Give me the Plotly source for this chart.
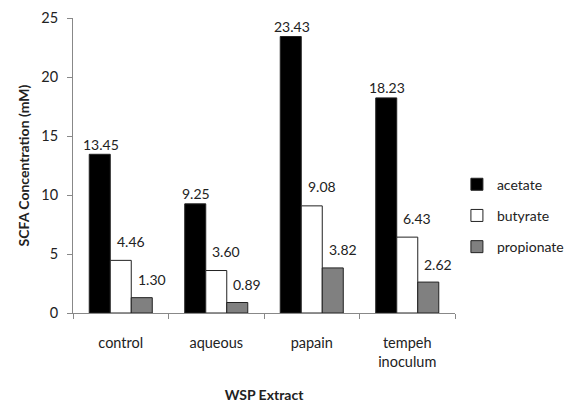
import plotly.graph_objects as go

categories = ["control", "aqueous", "papain", "tempeh<br>inoculum"]
acetate = [13.45, 9.25, 23.43, 18.23]
butyrate = [4.46, 3.60, 9.08, 6.43]
propionate = [1.30, 0.89, 3.82, 2.62]
series_names = ["acetate", "butyrate", "propionate"]
colors = ["#000000", "#FFFFFF", "#808080"]
y_ticks = [0, 5, 10, 15, 20, 25]

FONT = "Lato, Open Sans, sans-serif"
BARGAP = 0.34
label_xshift = [1, 10, 10]
label_yshift = [10, 19, 18]

fig = go.Figure()
all_series = [acetate, butyrate, propionate]
for name, vals, col in zip(series_names, all_series, colors):
    fig.add_trace(go.Bar(
        x=categories, y=vals, name=name,
        marker=dict(color=col, line=dict(color="#222222", width=1)),
        legendgroup=name,
    ))

slot = (1 - BARGAP) / 3
annotations = []
for k, vals in enumerate(all_series):
    for i, v in enumerate(vals):
        annotations.append(dict(
            x=i + (k - 1) * slot, y=v, xref="x", yref="y",
            text=f"{v:.2f}", showarrow=False,
            xanchor="center", yanchor="middle",
            xshift=label_xshift[k], yshift=label_yshift[k],
            font=dict(size=14, color="#222222", family=FONT),
        ))

fig.update_layout(
    width=569, height=403,
    margin=dict(l=73, r=114, t=18, b=90, autoexpand=False),
    paper_bgcolor="white", plot_bgcolor="white",
    barmode="group", bargap=BARGAP, bargroupgap=0,
    font=dict(family=FONT, size=14, color="#222222"),
    showlegend=True,
    legend=dict(x=1.005, y=0.33, xanchor="left", yanchor="middle",
                font=dict(size=14, family=FONT), tracegroupgap=10,
                traceorder="grouped", itemwidth=30),
    annotations=annotations,
    xaxis=dict(
        automargin=False,
        showline=True, linecolor="#888888", linewidth=1,
        ticks="outside", tickson="boundaries", ticklen=5, tickcolor="#888888",
        tickfont=dict(size=14.5, family=FONT), ticklabelstandoff=17,
        title=dict(text="<b>WSP Extract</b>", font=dict(size=14, family=FONT), standoff=25),
        showgrid=False, zeroline=False,
    ),
    yaxis=dict(
        automargin=False,
        range=[0, 25], tickvals=y_ticks,
        showline=True, linecolor="#888888", linewidth=1,
        ticks="outside", ticklen=5, tickcolor="#888888",
        tickfont=dict(size=14.5, family=FONT), ticklabelstandoff=6,
        title=dict(text="<b>SCFA Concentration (mM)</b>", font=dict(size=14, family=FONT), standoff=8),
        showgrid=False, zeroline=False,
    ),
)
fig.write_html("out.html", config={"displayModeBar": False},
               post_script="document.body.style.margin='0';")
